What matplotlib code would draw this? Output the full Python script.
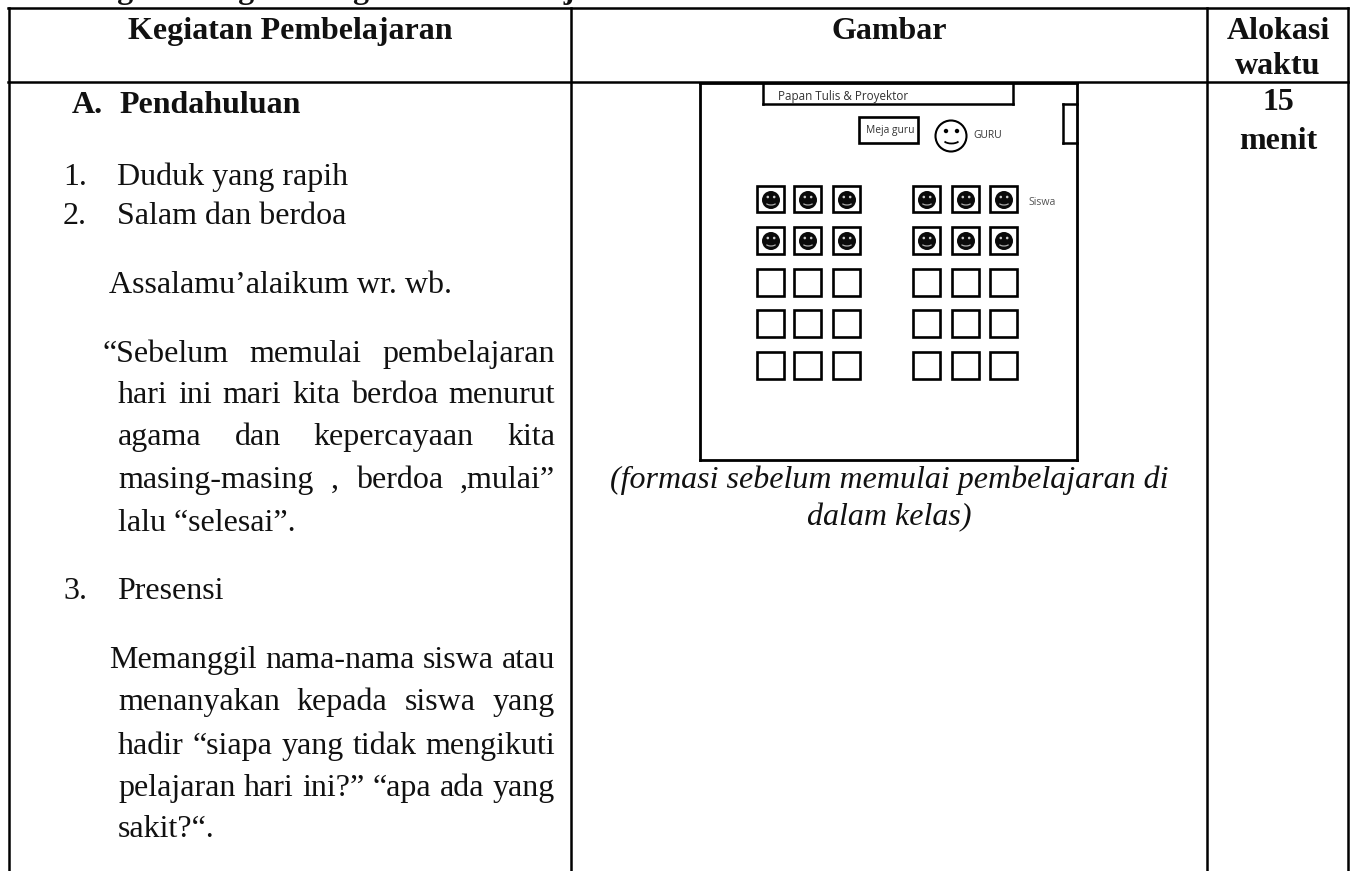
import matplotlib
matplotlib.use("Agg")
import matplotlib.pyplot as plt
from matplotlib.patches import Rectangle, Circle, Arc

W = 1353
H = 871
SERIF = "Liberation Serif"
SANS = "Open Sans"
BODY = 23
INK = "#111111"

top_line = "Langkah-langkah Kegiatan Pembelajaran"
headers = ["Kegiatan Pembelajaran", "Gambar", "Alokasi\nwaktu"]
section = "A.  Pendahuluan"
duration = "15\nmenit"
numbered = [("1.", "Duduk yang rapih", 185), ("2.", "Salam dan berdoa", 224), ("3.", "Presensi", 599)]
plain_lines = [("Assalamu\u2019alaikum wr. wb.", 109, 293),
               ("lalu \u201cselesai\u201d.", 118, 531),
               ("sakit?\u201c.", 118, 837)]
justified_lines = [("\u201cSebelum memulai pembelajaran", 102, 362),
                   ("hari ini mari kita berdoa menurut", 118, 403),
                   ("agama dan kepercayaan kita", 118, 445),
                   ("masing-masing , berdoa ,mulai\u201d", 118, 488),
                   ("Memanggil nama-nama siswa atau", 109, 668),
                   ("menanyakan kepada siswa yang", 118, 710),
                   ("hadir \u201csiapa yang tidak mengikuti", 118, 754),
                   ("pelajaran hari ini?\u201d \u201capa ada yang", 118, 796)]
caption = ["(formasi sebelum memulai pembelajaran di", "dalam kelas)"]
seat_cols = [757, 794, 833, 913, 952, 990]
seat_rows = [186, 227, 269, 310, 352]
occupied_rows = 2

fig = plt.figure(figsize=(W / 100, H / 100), dpi=100)
ax = fig.add_axes([0, 0, 1, 1])
ax.set_xlim(0, W)
ax.set_ylim(H, 0)
ax.axis("off")
renderer = fig.canvas.get_renderer()


def line(x0, y0, x1, y1, lw=1.8):
    ax.plot([x0, x1], [y0, y1], color="black", lw=lw, solid_capstyle="projecting")


def box(x0, y0, x1, y1, lw=1.9):
    ax.add_patch(Rectangle((x0, y0), x1 - x0, y1 - y0, fill=False, ec="black", lw=lw))


def serif(x, y, text, **kwargs):
    return ax.text(x, y, text, family=SERIF, fontsize=BODY, va="baseline", color=INK, **kwargs)


def justified(text, x0, x1, y):
    # spread words so that the line ends on the right margin
    words = text.split(" ")
    items = [serif(x0, y, w) for w in words]
    widths = [t.get_window_extent(renderer).width for t in items]
    gap = (x1 - x0 - sum(widths)) / (len(words) - 1)
    x = x0
    for t, w in zip(items, widths):
        t.set_x(x)
        x += w + gap


# table
line(8, 8, 1348, 8)
line(8, 82, 1348, 82)
line(8.5, 8, 8.5, 871)
line(571, 8, 571, 871)
line(1207, 8, 1207, 871)
line(1348, 8, 1348, 871)

# heading line above the table, only its descenders are on the page
serif(62, -2, top_line, weight="bold")
serif(290, 39, headers[0], weight="bold", ha="center")
serif(889, 39, headers[1], weight="bold", ha="center")
serif(1278, 39, headers[2].split("\n")[0], weight="bold", ha="center")
serif(1278, 74, headers[2].split("\n")[1], weight="bold", ha="center")
serif(1278, 110, duration.split("\n")[0], weight="bold", ha="center")
serif(1278, 149, duration.split("\n")[1], weight="bold", ha="center")

parts = section.split("  ")
serif(72, 113, parts[0], weight="bold")
serif(119, 113, parts[1], weight="bold")

for num, label, y in numbered:
    serif(63, y, num)
    serif(117, y, label)
for label, x, y in plain_lines:
    serif(x, y, label)
for label, x, y in justified_lines:
    justified(label, x, 555, y)

# room plan
line(700, 83, 1077, 83, lw=2.0)
line(700, 83, 700, 460, lw=2.0)
line(1077, 83, 1077, 460, lw=2.0)
line(700, 460, 1077, 460, lw=2.0)
line(763, 83, 763, 104.5)
line(763, 104.5, 1013, 104.5)
line(1013, 83, 1013, 104.5)
line(1063, 104, 1077, 104)
line(1063, 104, 1063, 143)
line(1063, 143, 1077, 143)
box(859, 117, 918, 143)
ax.text(778, 100, "Papan Tulis & Proyektor", family=SANS, fontsize=8.4, va="baseline", color="#333333")
ax.text(866, 133, "Meja guru", family=SANS, fontsize=7.4, va="baseline", color="#333333")
ax.text(973, 138, "GURU", family=SANS, fontsize=7.4, va="baseline", color="#333333")
ax.text(1028, 205, "Siswa", family=SANS, fontsize=7.6, va="baseline", color="#555555")

ax.add_patch(Circle((951, 136), 15.5, fc="white", ec="black", lw=1.5))
ax.add_patch(Circle((946, 131), 2.2, fc="black", ec="none"))
ax.add_patch(Circle((957, 131), 2.2, fc="black", ec="none"))
ax.add_patch(Arc((951.5, 139), 17, 9, theta1=20, theta2=160, color="black", lw=1.3))

for r, sy in enumerate(seat_rows):
    for sx in seat_cols:
        box(sx, sy, sx + 27, sy + 26.5)
        if r < occupied_rows:
            cx = sx + 14
            cy = sy + 14
            ax.add_patch(Circle((cx, cy), 9, fc="#0a0a0a", ec="none"))
            ax.add_patch(Circle((cx - 3.2, cy - 3), 1.3, fc="#cccccc", ec="none"))
            ax.add_patch(Circle((cx + 3.2, cy - 3), 1.3, fc="#cccccc", ec="none"))
            ax.add_patch(Arc((cx, cy + 2), 11, 6, theta1=20, theta2=160, color="#aaaaaa", lw=0.9))

serif(889, 488, caption[0], style="italic", ha="center")
serif(889, 525, caption[1], style="italic", ha="center")

fig.savefig("out.png", dpi=100)
